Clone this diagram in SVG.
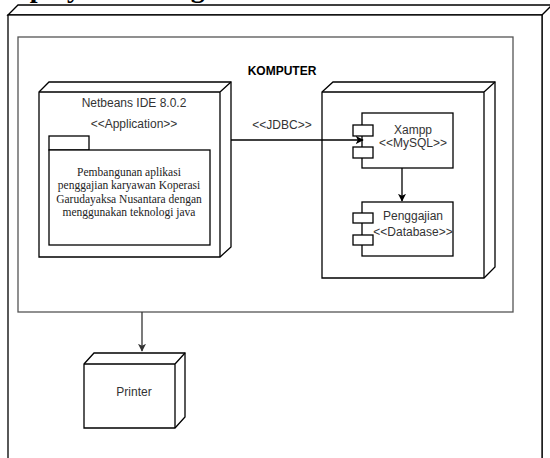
<svg xmlns="http://www.w3.org/2000/svg" width="550" height="458" viewBox="0 0 550 458">
<style>
.ln{fill:none;stroke:#000;stroke-width:1.3}
.box{fill:#fff;stroke:#000;stroke-width:1.3}
.t{font-family:"Liberation Sans",Arial,sans-serif;font-size:12px;fill:#333;text-anchor:middle}
.s{font-family:"Liberation Serif","Times New Roman",serif;font-size:11.5px;fill:#222;text-anchor:middle}
.con{fill:none;stroke:#000;stroke-width:1.3}
</style>
<defs>
<marker id="ah" viewBox="0 0 10 10" refX="9" refY="5" markerWidth="8" markerHeight="8" markerUnits="userSpaceOnUse" orient="auto">
<path d="M0,0 L10,5 L0,10 L2.5,5 z" fill="#000"/>
</marker>
<marker id="ahg" viewBox="0 0 10 10" refX="9" refY="5" markerWidth="8" markerHeight="8" markerUnits="userSpaceOnUse" orient="auto">
<path d="M0,0 L10,5 L0,10 L2.5,5 z" fill="#333"/>
</marker>
</defs>
<rect width="550" height="458" fill="#fff"/>
<text x="-3" y="-3" font-family="'Liberation Serif','Times New Roman',serif" font-size="28" font-weight="bold" fill="#000">Deployment Diagram</text>

<g id="server">
<path class="box" d="M8,15 L18,5 L555,5 L555,470 L542,470 L542,15 Z"/>
<path class="ln" d="M542,15 L552,5"/>
<rect class="box" x="8" y="15" width="534" height="460"/>
</g>

<g id="komputer">
<rect x="18" y="37" width="495" height="275" fill="#fff" stroke="#555" stroke-width="1.3"/>
<text x="282" y="75" font-family="'Liberation Sans',Arial,sans-serif" font-size="12" font-weight="bold" fill="#000" text-anchor="middle">KOMPUTER</text>
</g>

<g id="netbeans">
<path class="box" d="M39,92 L49,82 L231,82 L231,247 L220,257 L39,257 Z"/>
<path class="ln" d="M220,92 L231,82 M220,92 L220,257 M39,92 L220,92"/>
<text class="t" x="134" y="107">Netbeans IDE 8.0.2</text>
<text class="t" x="134" y="128" font-size="11">&lt;&lt;Application&gt;&gt;</text>
</g>

<g id="aplikasi">
<rect class="box" x="49" y="136" width="40" height="14"/>
<rect class="box" x="49" y="150" width="161" height="95"/>
<text class="s" x="129" y="175.5">Pembangunan aplikasi</text>
<text class="s" x="129" y="189">penggajian karyawan Koperasi</text>
<text class="s" x="129" y="202.5">Garudayaksa Nusantara dengan</text>
<text class="s" x="129" y="215.5">menggunakan teknologi java</text>
</g>

<g id="dbserver">
<path class="box" d="M322,92 L333,82 L495,82 L495,267 L484,278 L322,278 Z"/>
<path class="ln" d="M484,92 L495,82 M484,92 L484,278 M322,92 L484,92"/>
</g>

<g id="xampp">
<rect class="box" x="362" y="113" width="91" height="55"/>
<rect class="box" x="353" y="125" width="20" height="11"/>
<rect class="box" x="353" y="147" width="20" height="11"/>
<text class="t" x="413" y="134">Xampp</text>
<text class="t" x="413" y="147">&lt;&lt;MySQL&gt;&gt;</text>
</g>

<g id="penggajian">
<rect class="box" x="362" y="202" width="91" height="54"/>
<rect class="box" x="353" y="213" width="20" height="10"/>
<rect class="box" x="353" y="235" width="20" height="10"/>
<text class="t" x="413" y="220">Penggajian</text>
<text class="t" x="413" y="236">&lt;&lt;Database&gt;&gt;</text>
</g>

<g id="printer">
<path class="box" d="M84,364 L94,353 L185,353 L185,417 L175,428 L84,428 Z"/>
<path class="ln" d="M175,364 L185,353 M175,364 L175,428 M84,364 L175,364"/>
<text class="t" x="134" y="396">Printer</text>
</g>

<g id="connectors">
<path class="con" d="M231,140 L363,140" marker-end="url(#ah)"/>
<text class="t" x="282" y="129" font-size="11">&lt;&lt;JDBC&gt;&gt;</text>
<path class="con" d="M402,168 L402,201" marker-end="url(#ah)"/>
<path d="M142,312 L142,351" fill="none" stroke="#333" stroke-width="1.3" marker-end="url(#ahg)"/>
</g>
</svg>
